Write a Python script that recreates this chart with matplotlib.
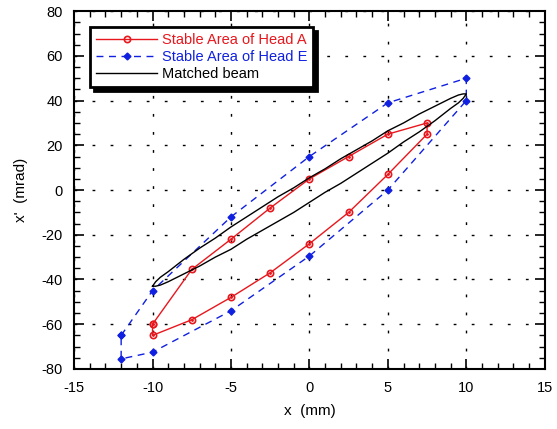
import matplotlib.pyplot as plt
from matplotlib.ticker import MultipleLocator

plt.rcParams['font.family'] = ['Liberation Sans', 'DejaVu Sans']
plt.rcParams['axes.unicode_minus'] = False

# Stable area of head A (closed contour)
head_a_x = [-10, -7.5, -5, -2.5, 0, 2.5, 5, 7.5, 7.5, 5, 2.5, 0, -2.5, -5, -7.5, -10, -10]
head_a_y = [-60, -35.5, -22, -8, 5, 15, 25, 30, 25, 7, -10, -24, -37, -48, -58, -65, -60]

# Stable area of head E (closed contour)
head_e_x = [-12, -10, -5, 0, 5, 10, 10, 5, 0, -5, -10, -12, -12]
head_e_y = [-65, -45, -12, 15, 39, 50, 40, 0, -29.5, -54, -72.5, -75.5, -65]

# Matched beam ellipse, upper and lower branches
beam_x = [-10, -9.8, -9.5, -9, -8, -7, -6, -5, -4, -3, -2, -1, 0,
          1, 2, 3, 4, 5, 6, 7, 8, 9, 9.5, 9.8, 10]
beam_up = [-43, -41, -39, -36.5, -31, -26, -21.5, -16.5, -12, -7.5, -3, 1, 5.5,
           9.5, 14, 18, 22, 26.5, 30, 34, 37.5, 41, 42.5, 43, 43]
beam_lo = [-43, -43, -42.5, -41, -37.5, -34, -30, -26.5, -22, -18, -14, -10, -5.5,
           -1, 3, 7.5, 12, 16.5, 21.5, 26, 31, 36.5, 39, 41, 43]

fig = plt.figure(figsize=(5.57, 4.29), dpi=100)
ax = fig.add_axes([0.133, 0.140, 0.845, 0.834])

ax.plot(head_a_x, head_a_y, color='#e8171d', lw=1.0, marker='o', ms=4.5,
        mfc='none', mew=1.2, label='Stable Area of Head A', zorder=4)
ax.plot(head_a_x, head_a_y, ls='none', color='#e8171d', marker='.', ms=2, zorder=4)
ax.plot(head_e_x, head_e_y, color='#1020e0', lw=1.0, ls=(0, (5, 4)), marker='D',
        ms=3.5, label='Stable Area of Head E', zorder=3)
ax.plot(beam_x + beam_x[::-1], beam_up + beam_lo[::-1], color='black', lw=1.0,
        label='Matched beam', zorder=5)

ax.set_xlim(-15, 15)
ax.set_ylim(-80, 80)
ax.xaxis.set_major_locator(MultipleLocator(5))
ax.xaxis.set_minor_locator(MultipleLocator(1))
ax.yaxis.set_major_locator(MultipleLocator(20))
ax.yaxis.set_minor_locator(MultipleLocator(5))
ax.tick_params(which='both', direction='in', top=True, right=True, labelsize=10.5)
ax.tick_params(which='major', length=7, width=1.2)
ax.tick_params(which='minor', length=4, width=1.0)
ax.tick_params(axis='x', pad=9)
ax.tick_params(axis='y', pad=8)
for s in ax.spines.values():
    s.set_linewidth(1.5)

ax.grid(True, which='major', color='black', lw=1.0, ls=(0, (2, 11)))

ax.set_xlabel('x  (mm)', fontsize=11, labelpad=6)
ax.set_ylabel("x'  (mrad)", fontsize=11, labelpad=10)

leg = ax.legend(loc='upper left', bbox_to_anchor=(0.034, 0.955), borderaxespad=0,
                fancybox=False, edgecolor='black', framealpha=1, fontsize=10.5,
                handlelength=4.2, handletextpad=0.3, labelspacing=0.2,
                borderpad=0.4,
                shadow={'color': 'black', 'alpha': 1, 'ox': 3, 'oy': -3})
leg.get_frame().set_linewidth(2)
for txt, c in zip(leg.get_texts(), ['#e8171d', '#1020e0', 'black']):
    txt.set_color(c)

fig.savefig('out.png', dpi=100)
